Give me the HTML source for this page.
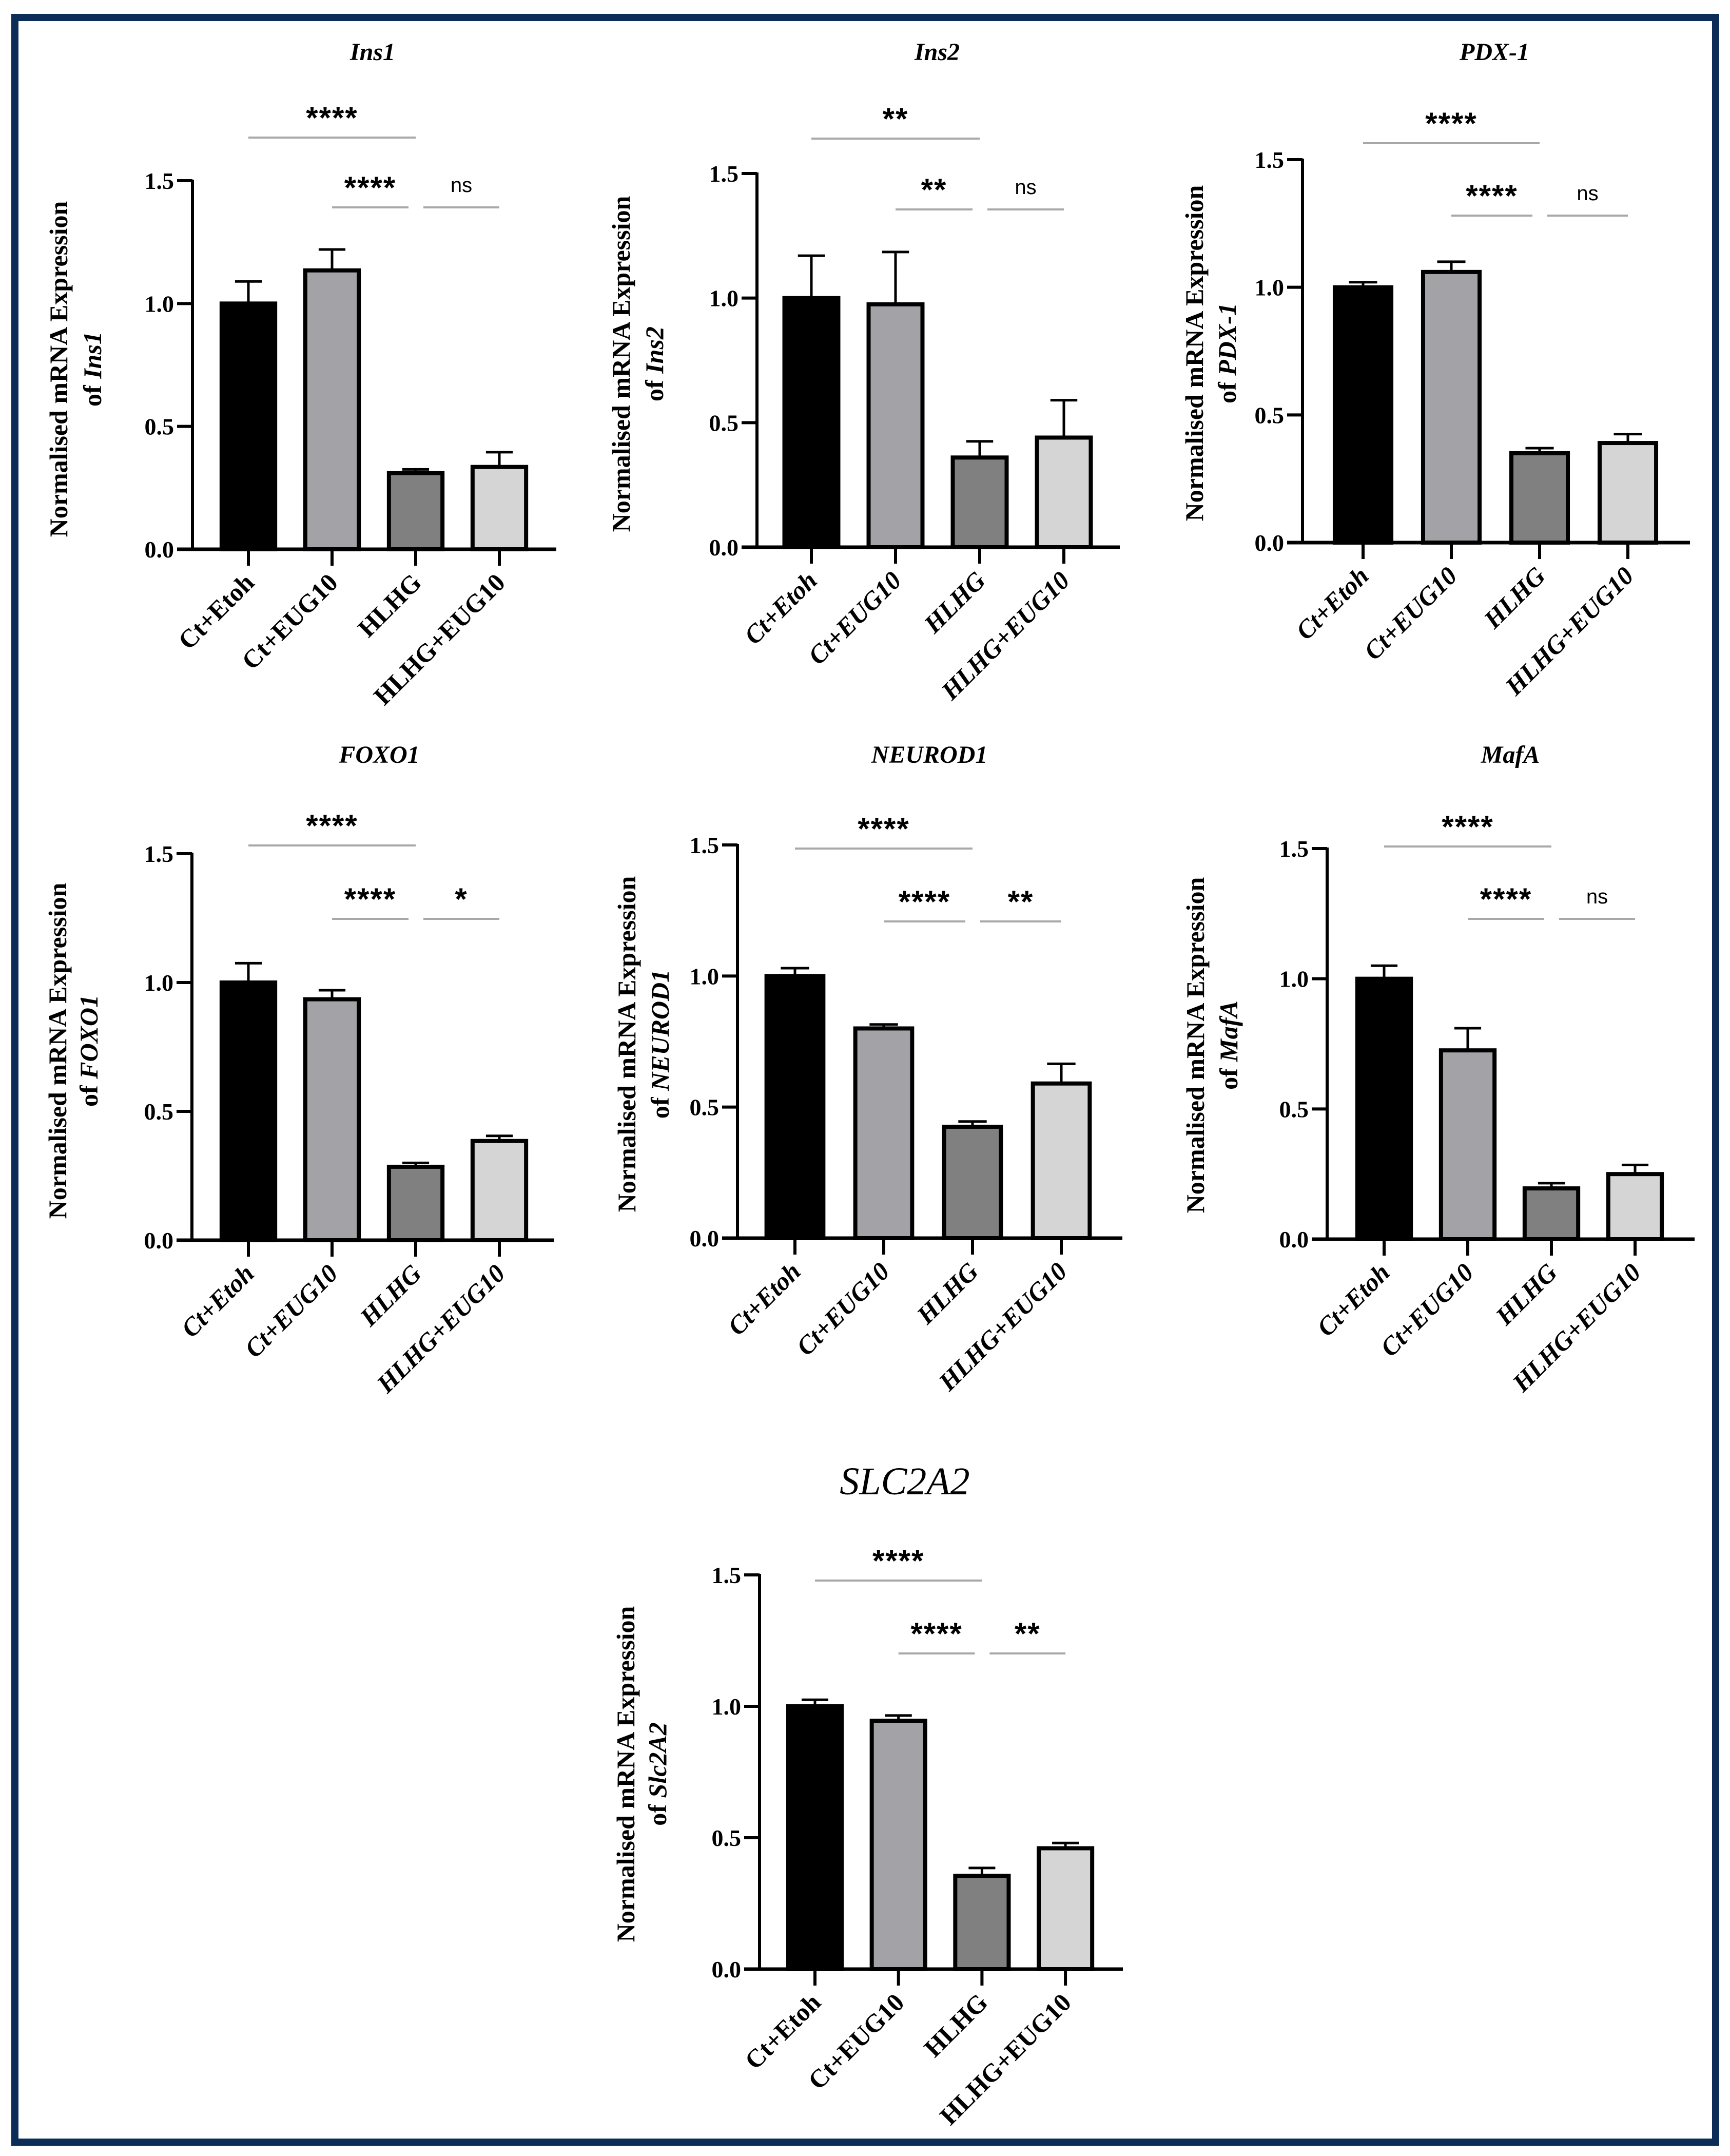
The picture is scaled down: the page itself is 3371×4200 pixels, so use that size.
<!DOCTYPE html>
<html><head><meta charset="utf-8"><style>
html,body{margin:0;padding:0;background:#fff}
svg{display:block}
</style></head><body>
<svg id="fig" width="3371" height="4200" viewBox="0 0 3371 4200" xmlns="http://www.w3.org/2000/svg">
<rect x="29" y="34" width="3314" height="4139" fill="none" stroke="#0c2d57" stroke-width="14"/>
</svg>
<script>
const categories = ["Ct+Etoh","Ct+EUG10","HLHG","HLHG+EUG10"];
const yTicks = [0, 0.5, 1.0, 1.5];
const yTickLabels = ["0.0","0.5","1.0","1.5"];
const genes = ["Ins1","Ins2","PDX-1","FOXO1","NEUROD1","MafA","SLC2A2"];
const labelGenes = ["Ins1","Ins2","PDX-1","FOXO1","NEUROD1","MafA","Slc2A2"];
const meansIns1 = [1.00, 1.135, 0.31, 0.335];
const errIns1 = [0.09, 0.085, 0.015, 0.06];
const meansIns2 = [1.00, 0.975, 0.36, 0.44];
const errIns2 = [0.17, 0.21, 0.065, 0.15];
const meansPDX1 = [1.00, 1.06, 0.35, 0.39];
const errPDX1 = [0.02, 0.04, 0.02, 0.035];
const meansFOXO1 = [1.00, 0.935, 0.285, 0.385];
const errFOXO1 = [0.075, 0.035, 0.015, 0.02];
const meansNEUROD1 = [1.00, 0.80, 0.425, 0.59];
const errNEUROD1 = [0.03, 0.015, 0.02, 0.075];
const meansMafA = [1.00, 0.725, 0.195, 0.25];
const errMafA = [0.05, 0.085, 0.02, 0.035];
const meansSLC2A2 = [1.00, 0.945, 0.355, 0.46];
const errSLC2A2 = [0.025, 0.02, 0.03, 0.02];
const sigTop = ["****","**","****","****","****","****","****"];
const sigMid = ["****","**","****","****","****","****","****"];
const sigRight = ["ns","ns","ns","*","**","ns","**"];

const allMeans = [meansIns1, meansIns2, meansPDX1, meansFOXO1, meansNEUROD1, meansMafA, meansSLC2A2];
const allErr = [errIns1, errIns2, errPDX1, errFOXO1, errNEUROD1, errMafA, errSLC2A2];

const layout = [
 {ax:375, y0:1070, y15:352, xe:1084, t0:109, sp:163, tx:726, ty:100, topY:268, midY:404, yl1:114, yl2:180, ylc:719, it:false},
 {ax:1475, y0:1066, y15:338, xe:2182, t0:106, sp:164, tx:1826, ty:100, topY:270, midY:408, yl1:1210, yl2:1275, ylc:709, it:true},
 {ax:2538, y0:1057, y15:311, xe:3293, t0:118, sp:172, tx:2912, ty:100, topY:279, midY:420, yl1:2327, yl2:2391, ylc:688, it:true},
 {ax:374, y0:2416, y15:1663, xe:1080, t0:110, sp:163, tx:739, ty:1469, topY:1647, midY:1790, yl1:112, yl2:173, ylc:2047, it:true},
 {ax:1437, y0:2412, y15:1646, xe:2187, t0:112, sp:173, tx:1811, ty:1469, topY:1653, midY:1795, yl1:1221, yl2:1286, ylc:2034, it:true},
 {ax:2586, y0:2414, y15:1653, xe:3302, t0:111, sp:163, tx:2943, ty:1469, topY:1649, midY:1790, yl1:2329, yl2:2394, ylc:2036, it:true},
 {ax:1480, y0:3836, y15:3068, xe:2188, t0:108, sp:162.7, tx:1763, ty:2894, topY:3079, midY:3221, yl1:1219, yl2:1281, ylc:3456, it:false}
];
const fills = ["#000000","#a3a2a7","#808080","#d5d5d5"];
const NS = "http://www.w3.org/2000/svg";
const svg = document.getElementById('fig');
function mk(tag, attrs, parent){
  const e = document.createElementNS(NS, tag);
  for (const k in attrs) e.setAttribute(k, attrs[k]);
  (parent||svg).appendChild(e);
  return e;
}
const serif = '"Liberation Serif", serif';
const sans = '"Liberation Sans", sans-serif';

layout.forEach((L, p) => {
  const g = mk('g', {});
  
  
  const yS = v => L.y0 - v / 1.5 * (L.y0 - L.y15);
  const xS = i => L.ax + L.t0 + i * L.sp;
  const bw = L.sp * 0.64;

  const t = mk('text', {x:L.tx, y:L.ty + 17, 'text-anchor':'middle', 'font-family':serif, 'font-size': p===6?76:48, 'font-style':'italic', 'font-weight': p===6?'normal':'bold', fill:'#000'}, g);
  t.textContent = genes[p];
  
  

  allMeans[p].forEach((v, i) => {
    const x = xS(i), top = yS(v), eTop = yS(v + allErr[p][i]);
    const eb = mk('line', {x1:x, x2:x, y1:top, y2:eTop, stroke:'#000', 'stroke-width':5}, g);
    
    
    const cap = mk('line', {x1:x-bw*0.25, x2:x+bw*0.25, y1:eTop, y2:eTop, stroke:'#000', 'stroke-width':5}, g);
    
    
    const r = mk('rect', {x:x-bw/2, y:top, width:bw, height:L.y0-top, fill:fills[i], stroke:'#000', 'stroke-width':8}, g);
    
    
  });

  const ya = mk('line', {x1:L.ax, x2:L.ax, y1:L.y15-2, y2:L.y0, stroke:'#000', 'stroke-width':6}, g);
  
  
  const xa = mk('line', {x1:L.ax-30, x2:L.xe, y1:L.y0, y2:L.y0, stroke:'#000', 'stroke-width':7}, g);
  
  
  yTicks.forEach((v, k) => {
    const y = yS(v);
    const tk = mk('line', {x1:L.ax-30, x2:L.ax, y1:y, y2:y, stroke:'#000', 'stroke-width':6}, g);
    
    
    const tl = mk('text', {x:L.ax-36, y:y+16, 'text-anchor':'end', 'font-family':serif, 'font-size':46, 'font-weight':'bold', fill:'#000'}, g);
    tl.textContent = yTickLabels[k];
    
    
  });
  categories.forEach((c, i) => {
    const x = xS(i);
    const tk = mk('line', {x1:x, x2:x, y1:L.y0, y2:L.y0+32, stroke:'#000', 'stroke-width':6}, g);
    
    
    const lx = x + 14, ly = L.y0 + 68;
    const tl = mk('text', {x:lx, y:ly, 'text-anchor':'end', transform:`rotate(-45 ${lx} ${ly})`, 'font-family':serif, 'font-size':50, 'font-weight':'bold', 'font-style': L.it?'italic':'normal', fill:'#000'}, g);
    tl.textContent = c;
    
    
  });

  const yt = mk('text', {x:0, y:0, transform:`translate(${L.yl1+17} ${L.ylc}) rotate(-90)`, 'text-anchor':'middle', 'font-family':serif, 'font-size':50, 'font-weight':'bold', fill:'#000'}, g);
  yt.textContent = 'Normalised mRNA Expression';
  
  
  const yt2 = mk('text', {x:0, y:0, transform:`translate(${L.yl2+17} ${L.ylc}) rotate(-90)`, 'text-anchor':'middle', 'font-family':serif, 'font-size':50, 'font-weight':'bold', fill:'#000'}, g);
  yt2.innerHTML = 'of <tspan font-style="italic">' + labelGenes[p] + '</tspan>';
  
  

  const sigs = [
    {a:0, b:2, y:L.topY, s:sigTop[p]},
    {a:1, b:2, y:L.midY, s:sigMid[p]},
    {a:2, b:3, y:L.midY, s:sigRight[p]}
  ];
  sigs.forEach((s, k) => {
    let x1 = xS(s.a), x2 = xS(s.b);
    if (k === 2) x1 += 15; if (k === 1) x2 -= 14;
    const ln = mk('line', {x1:x1, x2:x2, y1:s.y, y2:s.y, stroke:'#a8a8a8', 'stroke-width':4}, g);
    
    
    const isNs = s.s === 'ns';
    const st = mk('text', {x:(x1+x2)/2, y: isNs ? s.y-30 : s.y-18, 'text-anchor':'middle', 'font-family':sans, 'font-size': isNs?40:60, 'font-weight': isNs?'normal':'bold', 'letter-spacing': isNs?0:2, fill:'#000'}, g);
    st.textContent = s.s;
    
    
  });
});
</script>
</body></html>
